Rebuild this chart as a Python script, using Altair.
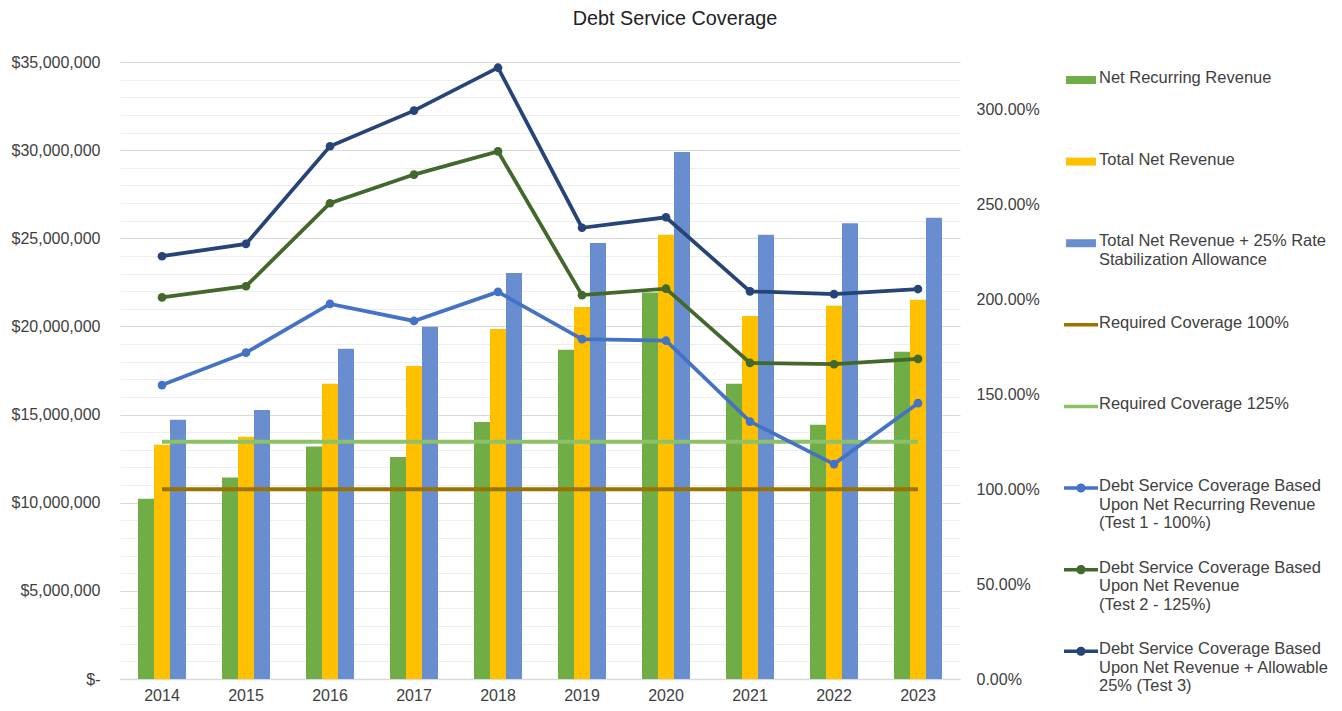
import altair as alt
import pandas as pd

# ---------------- data ----------------
years = ["2014", "2015", "2016", "2017", "2018", "2019", "2020", "2021", "2022", "2023"]

net_recurring = [10230000, 11430000, 13190000, 12590000, 14580000, 18680000, 21930000, 16750000, 14420000, 18560000]
total_net = [13290000, 13740000, 16750000, 17750000, 19850000, 21100000, 25200000, 20590000, 21170000, 21510000]
total_net_plus = [14710000, 15260000, 18730000, 19980000, 23030000, 24730000, 29890000, 25200000, 25860000, 26170000]

req_100 = [1.0, 1.0, 1.0, 1.0, 1.0, 1.0, 1.0, 1.0, 1.0, 1.0]
req_125 = [1.25, 1.25, 1.25, 1.25, 1.25, 1.25, 1.25, 1.25, 1.25, 1.25]

dsc_test1 = [1.548, 1.719, 1.976, 1.886, 2.039, 1.790, 1.782, 1.356, 1.132, 1.453]
dsc_test2 = [2.010, 2.069, 2.506, 2.657, 2.779, 2.022, 2.056, 1.665, 1.658, 1.686]
dsc_test3 = [2.227, 2.292, 2.806, 2.994, 3.220, 2.377, 2.432, 2.042, 2.027, 2.054]

bar_series = [
    "Net Recurring Revenue",
    "Total Net Revenue",
    "Total Net Revenue + 25% Rate\nStabilization Allowance",
]
req_series = ["Required Coverage 100%", "Required Coverage 125%"]
dsc_series = [
    "Debt Service Coverage Based\nUpon Net Recurring Revenue\n(Test 1 - 100%)",
    "Debt Service Coverage Based\nUpon Net Revenue\n(Test 2 - 125%)",
    "Debt Service Coverage Based\nUpon Net Revenue + Allowable\n25% (Test 3)",
]
all_series = bar_series + req_series + dsc_series
colors = ["#70AD47", "#FFC000", "#698ED0", "#997300", "#8CC168", "#4472C4", "#43682B", "#264478"]

left_ticks = [i * 1000000 for i in range(36)]
right_ticks = [0, 0.5, 1.0, 1.5, 2.0, 2.5, 3.0]

# ---------------- tables ----------------
def long(series_names, value_lists):
    rows = []
    for name, vals in zip(series_names, value_lists):
        for y, v in zip(years, vals):
            rows.append({"year": y, "series": name, "value": v})
    return pd.DataFrame(rows)

bars_df = long(bar_series, [net_recurring, total_net, total_net_plus])
req_df = long(req_series, [req_100, req_125])
dsc_df = long(dsc_series, [dsc_test1, dsc_test2, dsc_test3])
legend_df = pd.DataFrame({"series": all_series})

FONT = "Liberation Sans"
TEXT = "#404040"
RIGHT_MAX = 3.25

def color_scale():
    return alt.Scale(domain=all_series, range=colors)

# legend symbol paths (unit = 17 px for symbolSize 1156)
DY = 0.59
bar_sym = f"M-0.88,{DY-0.235:.3f}H0.88V{DY+0.235:.3f}H-0.88Z"
line_sym = f"M-1,{DY-0.103:.3f}H1V{DY+0.103:.3f}H-1Z"
dot_sym = (f"M-1,{DY-0.103:.3f}H1V{DY+0.103:.3f}H-1Z "
           f"M-0.27,{DY:.3f}A0.27,0.27 0 1,1 0.27,{DY:.3f}A0.27,0.27 0 1,1 -0.27,{DY:.3f}Z")
shape_range = [bar_sym, bar_sym, bar_sym, line_sym, line_sym, dot_sym, dot_sym, dot_sym]

x_enc = alt.X(
    "year:N",
    sort=years,
    scale=alt.Scale(paddingInner=0.4286, paddingOuter=0.2143),
    axis=alt.Axis(
        title=None, labelAngle=0, ticks=False, domainColor="#d9d9d9", domainWidth=1.5,
        labelPadding=8, labelFontSize=16, labelFont=FONT, labelColor=TEXT, grid=False,
    ),
)

bars = alt.Chart(bars_df).mark_bar().encode(
    x=x_enc,
    xOffset=alt.XOffset("series:N", sort=bar_series,
                        scale=alt.Scale(domain=bar_series, paddingInner=0, paddingOuter=0)),
    y=alt.Y(
        "value:Q",
        scale=alt.Scale(domain=[0, 35000000], nice=False),
        axis=alt.Axis(
            title=None, values=left_ticks, domain=False, ticks=False, labelPadding=20,
            labelFontSize=16, labelFont=FONT, labelColor=TEXT,
            labelExpr="datum.value % 5000000 === 0 ? (datum.value === 0 ? '$-' : '$' + format(datum.value, ',')) : ''",
            gridColor={"condition": {"test": "datum.value % 5000000 === 0", "value": "#d9d9d9"},
                       "value": "#eeeeee"},
            gridWidth=1.2,
        ),
    ),
    color=alt.Color("series:N", scale=color_scale(), legend=None),
)

req_lines = alt.Chart(req_df).mark_line(strokeWidth=4).encode(
    x=x_enc,
    y=alt.Y(
        "value:Q",
        scale=alt.Scale(domain=[0, RIGHT_MAX], nice=False),
        axis=alt.Axis(
            title=None, orient="right", values=right_ticks, format=".2%", grid=False,
            domain=False, ticks=False, labelPadding=16, labelFontSize=16, labelFont=FONT,
            labelColor=TEXT,
        ),
    ),
    color=alt.Color("series:N", scale=color_scale(), legend=None),
    detail="series:N",
)

dsc_lines = alt.Chart(dsc_df).mark_line(
    strokeWidth=3.75, point=alt.OverlayMarkDef(filled=True, size=75, opacity=1)
).encode(
    x=x_enc,
    y=alt.Y("value:Q", scale=alt.Scale(domain=[0, RIGHT_MAX], nice=False), axis=None),
    color=alt.Color("series:N", scale=color_scale(), legend=None),
    detail="series:N",
)

leg = alt.Legend(
    title=None, orient="none", legendX=944, legendY=-9, padding=0,
    symbolSize=1156, symbolStrokeWidth=0, labelFontSize=16.5, labelFont=FONT,
    labelColor=TEXT, labelBaseline="top", labelOffset=1,
    labelLimit=320, rowPadding=10.6,
    labelExpr="slice(split(datum.label + '\\n\\n', '\\n'), 0, 3)",
)

legend_layer = alt.Chart(legend_df).mark_point(filled=True, opacity=1).encode(
    color=alt.Color("series:N", scale=color_scale(), legend=leg),
    shape=alt.Shape("series:N", scale=alt.Scale(domain=all_series, range=shape_range), legend=leg),
).transform_filter("false")

chart = (
    alt.layer(bars, req_lines, dsc_lines, legend_layer)
    .resolve_scale(y="independent", color="independent", shape="independent")
    .resolve_legend(color="independent", shape="independent")
    .properties(
        width=840,
        height=617,
        autosize="none",
        padding={"left": 112, "top": 54, "right": 374, "bottom": 24},
        title=alt.TitleParams(
            "Debt Service Coverage", anchor="middle", frame="group", dx=135, offset=24,
            fontSize=19.8, font=FONT, fontWeight="normal", color="#222222",
        ),
    )
    .configure_view(stroke=None)
)

chart.save("out.html", embed_options={"renderer": "svg", "actions": False})
